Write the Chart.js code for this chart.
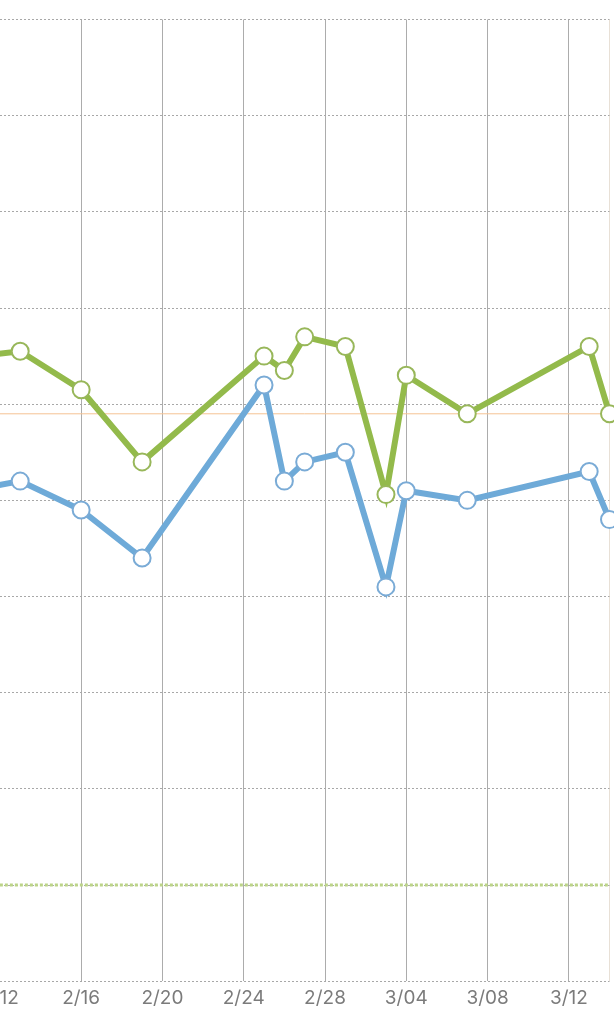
<!DOCTYPE html>
<html lang="en">
<head>
    <meta charset="UTF-8">
    <title>Chart</title>
    <script src="https://cdn.jsdelivr.net/npm/chart.js"></script>
    <style>
        html, body { margin: 0; padding: 0; background: #fff; overflow: hidden; }
        #wrap { position: relative; width: 614px; height: 1024px; overflow: hidden; }
        #myChart { position: absolute; }
    </style>
</head>
<body>
    <div id="wrap">
        <canvas id="myChart" width="800" height="1200"></canvas>
    </div>

    <script>
        // days counted from 2/12 (day 0), -1 = point just off the left edge
        const days = [-1, 1, 4, 7, 13, 14, 15, 17, 19, 20, 23, 29, 30];
        const greenValues = [65, 65.5, 61.5, 54, 65, 63.5, 67, 66, 50.6, 63, 59, 66, 59];
        const blueValues = [51.2, 52, 49, 44, 62, 52, 54, 55, 41, 51, 50, 53, 48];

        const tickDays = [0, 4, 8, 12, 16, 20, 24, 28, 30];
        const tickLabels = ['2/12', '2/16', '2/20', '2/24', '2/28', '3/04', '3/08', '3/12', ''];

        const referenceValue = 59;   // orange line
        const targetValue = 10;      // green dotted line
        const xMin = 0, xMax = 30;
        const yMin = 0, yMax = 100, yStep = 10;

        // where the plot area should sit in the page (the original is a cropped, scrolled chart)
        const area = { left: 0, top: 19, width: 610, height: 961.5 };

        function toPoints(xs, ys){
            return xs.map((x, i) => ({x: x, y: ys[i]}));
        }

        function flatLine(value){
            return [{x: xMin, y: value}, {x: xMax, y: value}];
        }

        function config(){
            const data = {
                datasets: [
                    {
                        label: 'green',
                        data: toPoints(days, greenValues),
                        borderColor: '#93ba4b',
                        borderWidth: 6,
                        pointRadius: 8.5,
                        pointBorderWidth: 2,
                        pointBackgroundColor: '#ffffff',
                        pointBorderColor: '#98b75a',
                        clip: false,
                        order: 0
                    },
                    {
                        label: 'blue',
                        data: toPoints(days, blueValues),
                        borderColor: '#6eaad8',
                        borderWidth: 6,
                        pointRadius: 8.5,
                        pointBorderWidth: 2,
                        pointBackgroundColor: '#ffffff',
                        pointBorderColor: '#7aabd6',
                        clip: false,
                        order: 1
                    },
                    {
                        label: 'reference',
                        data: flatLine(referenceValue),
                        borderColor: '#f5c394',
                        borderWidth: 1,
                        pointRadius: 0,
                        order: 3
                    },
                    {
                        label: 'target',
                        data: flatLine(targetValue),
                        borderColor: '#bcd488',
                        borderWidth: 3,
                        borderDash: [3, 2],
                        pointRadius: 0,
                        order: 3
                    }
                ]
            };

            const options = {
                responsive: false,
                animation: false,
                layout: { padding: 0 },
                plugins: { legend: { display: false }, tooltip: { enabled: false } },
                elements: { line: { tension: 0 } },
                scales: {
                    x: {
                        type: 'linear',
                        min: xMin,
                        max: xMax,
                        afterBuildTicks: (scale) => {
                            scale.ticks = tickDays.map(v => ({value: v}));
                        },
                        ticks: {
                            autoSkip: false,
                            maxRotation: 0,
                            padding: 6,
                            color: '#7b7b7b',
                            font: { family: 'Inter', size: 19 },
                            callback: (value) => {
                                const i = tickDays.indexOf(value);
                                return i >= 0 ? tickLabels[i] : '';
                            }
                        },
                        grid: {
                            drawTicks: false,
                            lineWidth: 1,
                            color: (c) => (c.tick && c.tick.value === xMax) ? '#e8e0d6' : '#acacac'
                        },
                        border: { display: false }
                    },
                    y: {
                        min: yMin,
                        max: yMax,
                        ticks: { display: false, stepSize: yStep },
                        grid: { drawTicks: false, color: '#a8a8a8', lineWidth: 1 },
                        border: { display: false, dash: [2, 2] }
                    }
                }
            };
            return { type: 'line', data: data, options: options };
        }

        const canvas = document.getElementById('myChart');

        // first pass: find how much room the axes take around the plot area
        let chart = new Chart(canvas, config());
        const ca = chart.chartArea;
        const padL = ca.left, padT = ca.top;
        const padR = chart.width - ca.right, padB = chart.height - ca.bottom;
        chart.destroy();

        // second pass: size the canvas so the plot area lands where the original has it
        canvas.width = Math.round(padL + area.width + padR);
        canvas.height = Math.round(padT + area.height + padB);
        canvas.style.width = canvas.width + 'px';
        canvas.style.height = canvas.height + 'px';
        canvas.style.left = (area.left - padL) + 'px';
        canvas.style.top = (area.top - padT) + 'px';
        chart = new Chart(canvas, config());
    </script>
</body>
</html>
